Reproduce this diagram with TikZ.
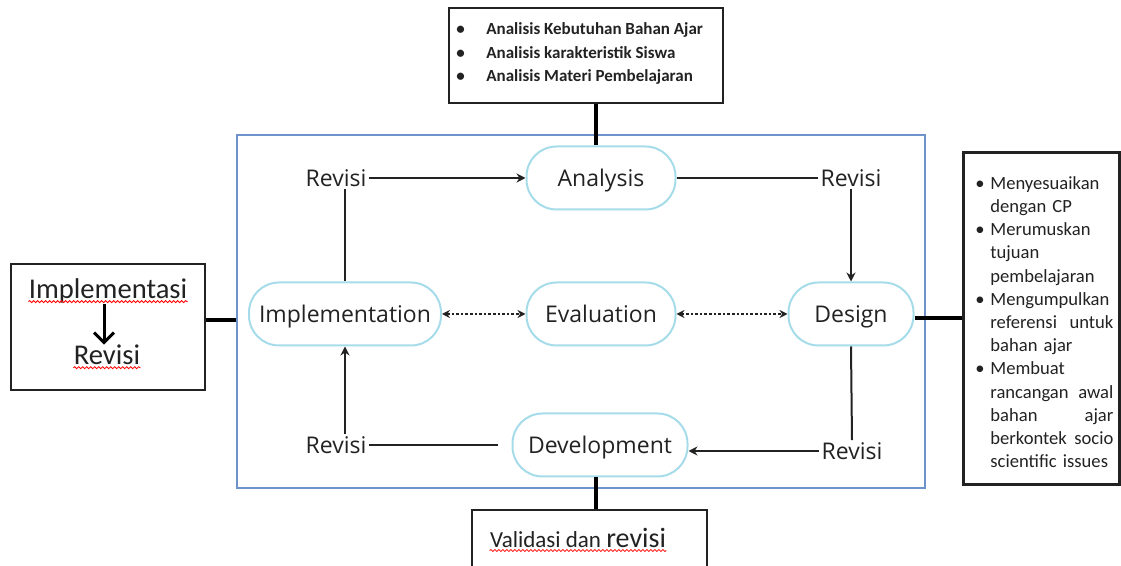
\documentclass[tikz,border=0pt]{standalone}
\usepackage{fontspec}
\setmainfont{Open Sans}
\newfontfamily\calib{Carlito}
\usetikzlibrary{arrows.meta,decorations.pathmorphing}

\definecolor{frameblue}{HTML}{6E93CC}
\definecolor{stagecyan}{HTML}{A6DCEA}
\definecolor{ink}{HTML}{222222}

\newcommand{\blt}[1]{\makebox[#1][l]{\textbullet}}

\tikzset{
  stage/.style={draw=stagecyan, line width=1pt, rounded corners=15pt, minimum height=31.5pt,
    inner sep=0pt, text height=10.7pt, text depth=2.5pt, text=ink, font=\fontsize{11.5}{13}\selectfont},
  revlabel/.style={inner sep=1pt, text=ink, font=\fontsize{11.5}{13}\selectfont},
  flow/.style={line width=1pt, draw=ink},
  flowarr/.style={flow, -{Stealth[length=4.5pt,width=4.5pt]}},
  dotarr/.style={line width=1.3pt, densely dotted, draw=ink,
    {Stealth[length=4pt,width=4pt]}-{Stealth[length=4pt,width=4pt]}},
  joint/.style={line width=1.8pt},
  notebox/.style={draw=ink, line width=1pt, inner sep=0pt},
  spell/.style={draw=red, line width=0.4pt, decorate,
    decoration={snake, amplitude=0.5pt, segment length=2pt}},
}

\begin{document}
\begin{tikzpicture}[x=0.5pt,y=-0.5pt]
\useasboundingbox (0,0) rectangle (1121,566);
\clip (0,0) rectangle (1121,566);

% cycle
\node[draw=frameblue, line width=0.8pt, minimum width=344pt, minimum height=176.5pt] (frame) at (581,311.5) {};
\node[stage, minimum width=74.5pt] (analysis) at (601,178) {Analysis};
\node[stage, minimum width=74.5pt] (eval) at (601,314) {Evaluation};
\node[stage, minimum width=96pt] (impl) at (345,314) {Implementation};
\node[stage, minimum width=62.5pt] (design) at (851,314) {Design};
\node[stage, minimum width=87.5pt] (dev) at (600,445) {Development};

\node[revlabel] (rtl) at (336,178) {Revisi};
\node[revlabel] (rtr) at (851,178) {Revisi};
\node[revlabel] (rbl) at (336,445) {Revisi};
\node[revlabel] (rbr) at (852,451) {Revisi};

\draw[flowarr] (rtl.east) -- (analysis.west);
\draw[flow] (impl.north) -- (impl.north |- rtl.south);
\draw[flow] (analysis.east) -- (rtr.west);
\draw[flowarr] (rtr.south) -- (design.north);
\draw[flow] (design.south) -- (rbr.north);
\draw[flowarr] (rbr.west) -- (dev.east |- rbr.west);
\draw[flow] ([xshift=-7pt]dev.west) -- (rbl.east);
\draw[flowarr] (impl.south |- rbl.north) -- (impl.south);
\draw[dotarr] (impl.east) -- (eval.west);
\draw[dotarr] (eval.east) -- (design.west);

% notes
\node[notebox, minimum width=137pt, minimum height=47.5pt] (anbox) at (586,55.5) {};
\node[anchor=west, align=left, inner sep=0pt, text=ink,
  font=\calib\bfseries\fontsize{8.5}{11.75}\selectfont] (antext) at (456,53.5)
  {\blt{15pt}Analisis Kebutuhan Bahan Ajar\\
   \blt{15pt}Analisis karakteristik Siswa\\
   \blt{15pt}Analisis Materi Pembelajaran};

\node[notebox, line width=1.5pt, minimum width=78pt, minimum height=166pt] (dsbox) at (1041,319) {};
\node[anchor=north west, align=left, text width=69pt, inner sep=0pt, text=ink,
  font=\calib\fontsize{9.3}{11.6}\selectfont] (dstext) at (975,176)
  {\blt{7.5pt}Menyesuaikan\\
   \hspace*{7.5pt}dengan CP\\
   \blt{7.5pt}Merumuskan\\
   \hspace*{7.5pt}tujuan\\
   \hspace*{7.5pt}pembelajaran\\
   \blt{7.5pt}Mengumpulkan\\
   \hspace*{7.5pt}referensi\hfill untuk\\
   \hspace*{7.5pt}bahan ajar\\
   \blt{7.5pt}Membuat\\
   \hspace*{7.5pt}rancangan\hfill awal\\
   \hspace*{7.5pt}bahan\hfill ajar\\
   \hspace*{7.5pt}berkontek\hfill socio\\
   \hspace*{7.5pt}scientific issues};

\node[notebox, minimum width=97pt, minimum height=63pt] (impbox) at (108,327) {};
\node[inner sep=0pt, text=ink, font=\calib\fontsize{14.3}{16}\selectfont] (impword) at (108,291) {Implementasi};
\node[inner sep=0pt, text=ink, font=\calib\fontsize{14.3}{16}\selectfont] (revword) at (107,355) {Revisi};
\draw[line width=1.5pt, -{Straight Barb[length=5pt,width=10pt]}] ([xshift=-2pt]impword.south) -- ([xshift=-1.5pt]revword.north);
\draw[spell] ([yshift=-1.5pt]impword.base west) -- ([yshift=-1.5pt]impword.base east);
\draw[spell] ([yshift=-1.5pt]revword.base west) -- ([yshift=-1.5pt]revword.base east);

\node[notebox, minimum width=117.5pt, minimum height=40pt] (valbox) at (589.5,550) {};
\node[inner sep=0pt, text=ink, font=\calib\fontsize{11.5}{13}\selectfont] (valtext) at (578,538)
  {Validasi dan {\fontsize{14}{16}\selectfont revisi}};
\draw[spell] ([yshift=-1.5pt]valtext.base west) -- ([yshift=-1.5pt]valtext.base east);

% links to notes
\draw[joint] ([xshift=-2.5pt]analysis.north) -- ([xshift=-2.5pt]analysis.north |- anbox.south);
\draw[joint] ([xshift=-2pt]dev.south) -- ([xshift=-2pt]dev.south |- valbox.north);
\draw[joint] ([yshift=3.5pt]impbox.east) -- ([yshift=3.5pt]impbox.east -| frame.west);
\draw[joint] ([yshift=-2pt]design.east) -- ([yshift=-2pt]design.east -| dsbox.west);
\end{tikzpicture}
\end{document}
